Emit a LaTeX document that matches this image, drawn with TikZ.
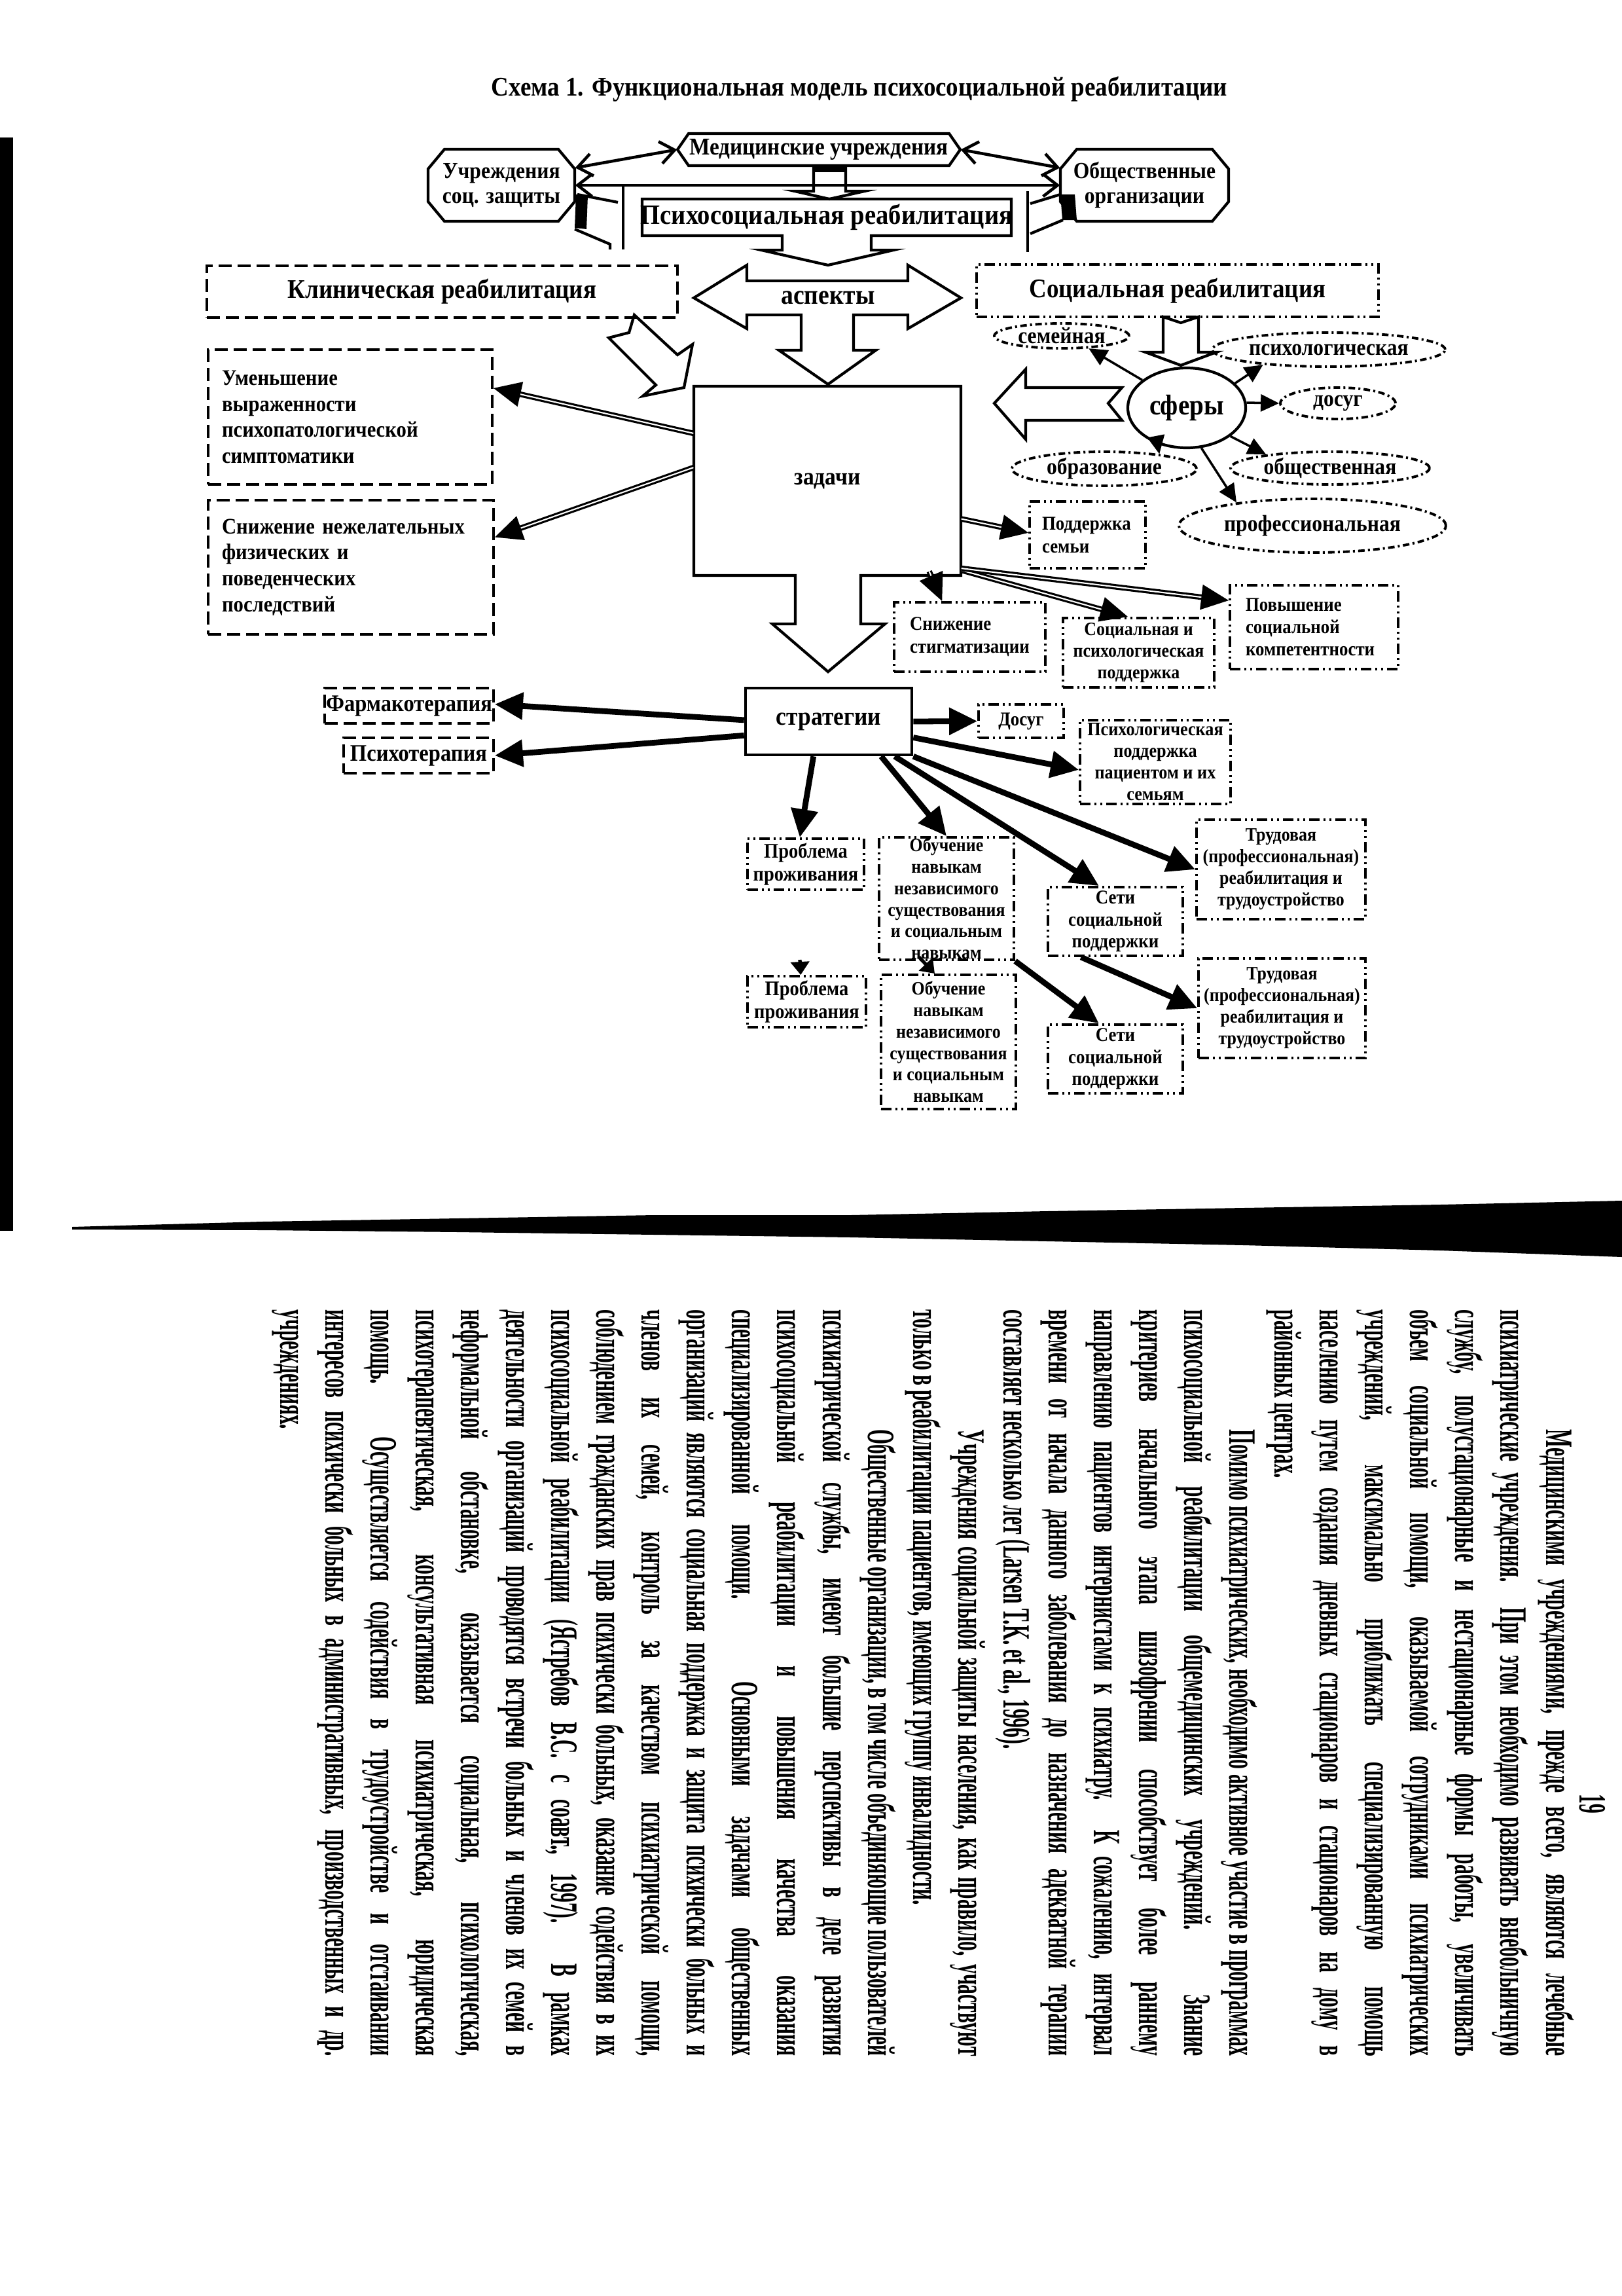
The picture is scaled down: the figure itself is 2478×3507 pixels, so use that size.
\documentclass[tikz,border=0pt]{standalone}
\usepackage{fontspec}
\setmainfont{Liberation Serif}
\newfontfamily\dfam[FakeStretch=0.9]{Liberation Serif}
\newfontfamily\bodyfam[FakeStretch=0.5]{Liberation Serif}
\usetikzlibrary{arrows.meta,shapes.geometric,calc}
\newcommand\dsz[2]{\dfam\bfseries\fontsize{#1}{#2}\selectfont}
\newcommand\jline[1]{\makebox[114mm][s]{#1}}
\newcommand\lline[1]{\makebox[114mm][l]{#1}}
\begin{document}
\begin{tikzpicture}[x=0.1mm,y=-0.1mm,
  shp/.style={draw, line width=1.2pt, line join=miter},
  plain/.style={inner sep=0pt},
  dashbox/.style={draw, line width=1.1pt, dash pattern=on 2mm off 0.9mm, inner sep=0pt},
  ddbox/.style={draw, line width=1.1pt, dash pattern=on 1.6mm off 0.6mm on 0.3mm off 0.6mm on 0.3mm off 0.6mm, inner sep=0pt},
  dotell/.style={ellipse, draw, line width=1.1pt, dash pattern=on 1mm off 0.5mm on 0.3mm off 0.5mm, inner sep=0pt},
  barb/.style={line width=1.3pt, arrows={Straight Barb[length=2.2mm,width=3.4mm]-Straight Barb[length=2.2mm,width=3.4mm]}},
  thickarrow/.style={line width=2.5pt, arrows={-Triangle[length=4.3mm,width=4mm]}},
  dblarrow/.style={line width=0.9pt, double, double distance=0.6pt, arrows={-Triangle[length=4.2mm,width=3.8mm]}},
  sfarrow/.style={line width=1pt, arrows={-Triangle[length=2.8mm,width=2.6mm]}},
  smallhead/.style={line width=1.5pt, arrows={-Triangle[length=2mm,width=2.8mm]}}
]
\useasboundingbox (0,0) rectangle (2478,3507);
\fill[white] (0,0) rectangle (2478,3507);

% ---------- title ----------
\node[font={\dsz{11.7}{14}}] (title) at (1313,136) {Схема 1. Функциональная модель психосоциальной реабилитации};

% ---------- top row ----------
\node[plain, font={\dsz{10.5}{12}}, minimum width=43.2mm, minimum height=4.9mm] (med) at (1251,228.5) {Медицинские учреждения};
\draw[shp] (1052,204) -- (1450,204) -- (1467,228.5) -- (1450,253) -- (1052,253) -- (1035,228.5) -- cycle;

\node[plain, font={\dsz{10}{10.8}}, align=center, minimum width=22.4mm, minimum height=11mm] (uchr) at (766,283) {Учреждения\\соц. защиты};
\draw[shp] (679,228) -- (853,228) -- (878,258) -- (878,308) -- (853,338) -- (679,338) -- (654,308) -- (654,258) -- cycle;

\node[plain, font={\dsz{10}{10.8}}, align=center, minimum width=25.7mm, minimum height=11mm] (obsh) at (1748.5,283) {Общественные\\организации};
\draw[shp] (1645,228) -- (1852,228) -- (1877,258) -- (1877,308) -- (1852,338) -- (1645,338) -- (1620,308) -- (1620,258) -- cycle;

\draw[barb] ($(uchr.north east)+(0,29)$) -- (med.west);
\draw[barb] (med.east) -- ($(obsh.north west)+(0,29)$);
\draw[barb] (uchr.east) -- (obsh.west);

% block arrow medical -> psychosocial
\fill (1243,253) rectangle (1292,263);
\draw[shp] (1243,253) -- (1243,292) -- (1214,292) -- (1267,304) -- (1321,292) -- (1292,292) -- (1292,253);

% side shapes
\fill (880,297) -- (898,299) -- (896,350) -- (878,348) -- cycle;
\draw[shp] (882,297) -- (944,309);
\draw[shp] (952,281) -- (952,381);
\draw[shp] (878,350) -- (932,373) -- (932,381);
\fill (1620,297) -- (1642,297) -- (1645,336) -- (1623,336) -- cycle;
\draw[shp] (1570,292) -- (1570,385);
\draw[shp] (1574,311) -- (1620,297);
\draw[shp] (1574,357) -- (1624,336);

% psychosocial box + arrow down
\node[plain, font={\dsz{12.2}{14}}, minimum width=56.4mm, minimum height=5.6mm] (psy) at (1263,332) {Психосоциальная реабилитация};
\draw[shp] (981,304) -- (1545,304) -- (1545,360) -- (1331,360) -- (1331,382) -- (1365,382) -- (1265,405) -- (1163,382) -- (1195,382) -- (1195,360) -- (981,360) -- cycle;

% ---------- aspects ----------
\node[font={\dsz{11.9}{14}}] (asp) at (1265,455) {аспекты};
\draw[shp] (1224,481) -- (1141,481) -- (1141,502) -- (1060,455) -- (1141,405) -- (1141,429) -- (1387,429) -- (1387,405) -- (1468,455) -- (1387,502) -- (1387,481) -- (1304,481) -- (1304,535) -- (1338,535) -- (1265,587) -- (1190,535) -- (1224,535) -- cycle;

\node[dashbox, font={\dsz{11.7}{14}}, minimum width=71.9mm, minimum height=7.9mm] (klin) at (675.5,445.5) {Клиническая реабилитация};
\node[ddbox, font={\dsz{11.7}{14}}, minimum width=61.4mm, minimum height=8mm] (soc) at (1799,444) {Социальная реабилитация};

% block arrow clinical -> tasks
\draw[shp] (969,481) -- (1035,542) -- (1058,526) -- (1045,592) -- (982,605) -- (1002,588) -- (930,516) -- (961,508) -- cycle;
% block arrow social -> spheres
\draw[shp] (1777,484) -- (1777,538) -- (1750,538) -- (1804,558) -- (1858,538) -- (1831,538) -- (1831,484) -- (1804,493) -- cycle;
% block arrow spheres -> tasks
\draw[shp] (1714,592) -- (1567,592) -- (1567,564) -- (1519,616) -- (1567,671) -- (1567,642) -- (1714,642) -- (1693,616) -- cycle;

% ---------- tasks ----------
\node[plain, font={\dsz{10.6}{12}}, minimum width=40.8mm, minimum height=28.9mm] (zad) at (1264,734.5) {задачи};
\draw[shp] (1060,590) -- (1468,590) -- (1468,879) -- (1315,879) -- (1315,953) -- (1352,953) -- (1265,1026) -- (1180,953) -- (1215,953) -- (1215,879) -- (1060,879) -- cycle;

\node[dashbox, font={\dsz{9.7}{11.3}}, minimum width=43.4mm, minimum height=20.6mm, text width=39.2mm, inner xsep=2.1mm, align=left] (umen) at (535,637) {Уменьшение\\выраженности\\психопатологической\\симптоматики};
\node[dashbox, font={\dsz{9.7}{11.3}}, minimum width=43.6mm, minimum height=20.5mm, text width=39.4mm, inner xsep=2.1mm, align=left] (snn) at (536,866.5) {Снижение нежелательных\\физических и\\поведенческих\\последствий};

\node[ddbox, font={\dsz{8.5}{9.9}}, minimum width=17.7mm, minimum height=10.2mm, text width=13.9mm, inner xsep=1.9mm, align=left] (pods) at (1661.5,817) {Поддержка\\семьи};
\node[ddbox, font={\dsz{8.5}{9.9}}, minimum width=23.1mm, minimum height=10.6mm, text width=18.3mm, inner xsep=2.4mm, align=left] (snst) at (1481.5,973) {Снижение\\стигматизации};
\node[ddbox, font={\dsz{8.2}{9.4}}, minimum width=23.1mm, minimum height=10.6mm, align=center] (sp) at (1739.5,997) {Социальная и\\психологическая\\поддержка};
\node[ddbox, font={\dsz{8.5}{9.6}}, minimum width=25.7mm, minimum height=12.8mm, text width=20.9mm, inner xsep=2.4mm, align=left] (pov) at (2007.5,958) {Повышение\\социальной\\компетентности};

% spheres
\node[ellipse, draw, line width=1.2pt, inner sep=0pt, minimum width=18mm, minimum height=12.2mm, font={\dsz{12.4}{14}}] (sf) at (1813,623) {сферы};
\node[dotell, minimum width=20.6mm, minimum height=3.8mm, font={\dsz{10}{12}}] (sem) at (1622,513) {семейная};
\node[dotell, minimum width=35.6mm, minimum height=5.2mm, font={\dsz{10}{12}}] (psl) at (2030,534) {психологическая};
\node[dotell, minimum width=17.6mm, minimum height=4.8mm, font={\dsz{10}{12}}] (dsg) at (2044,616) {досуг};
\node[dotell, minimum width=28.2mm, minimum height=5.2mm, font={\dsz{10}{12}}] (obr) at (1687,716) {образование};
\node[dotell, minimum width=30.4mm, minimum height=5mm, font={\dsz{10}{12}}] (obs) at (2032,715) {общественная};
\node[dotell, minimum width=40.8mm, minimum height=8.2mm, font={\dsz{10}{12}}] (prof) at (2005,803) {профессиональная};

\draw[sfarrow] (sf.148) -- (sem.-25);
\draw[sfarrow] (sf.27) -- (psl.193);
\draw[sfarrow] (sf.5) -- (dsg.180);
\draw[sfarrow] (sf.231) -- (obr.15);
\draw[sfarrow] (sf.-33) -- (obs.168);
\draw[sfarrow] (sf.-70) -- (prof.163);

% task arrows
\draw[dblarrow] ($(zad.north west)!0.25!(zad.south west)$) -- ($(umen.north east)!0.29!(umen.south east)$);
\draw[dblarrow] ($(zad.north west)!0.43!(zad.south west)$) -- ($(snn.north east)!0.28!(snn.south east)$);
\draw[dblarrow] ($(zad.north east)!0.70!(zad.south east)$) -- ($(pods.north west)!0.47!(pods.south west)$);
\draw[dblarrow] ($(zad.south west)!0.88!(zad.south east)+(0,-7)$) -- ($(snst.north west)!0.32!(snst.north east)$);
\draw[dblarrow] ($(zad.north east)!0.97!(zad.south east)$) -- ($(sp.north west)!0.43!(sp.north east)$);
\draw[dblarrow] ($(zad.north east)!0.96!(zad.south east)$) -- ($(pov.north west)!0.19!(pov.south west)$);

% ---------- strategies ----------
\node[draw, line width=1.3pt, inner sep=0pt, font={\dsz{11.2}{13}}, minimum width=25.4mm, minimum height=10.2mm] (str) at (1266,1102) {стратегии};
\node[dashbox, font={\dsz{10.3}{12}}, minimum width=25.8mm, minimum height=5.4mm] (farm) at (625,1078) {Фармакотерапия};
\node[dashbox, font={\dsz{10.3}{12}}, minimum width=22.9mm, minimum height=5.4mm] (psiho) at (639.5,1154) {Психотерапия};
\node[ddbox, font={\dsz{8.5}{10}}, minimum width=13mm, minimum height=5.1mm] (dosug) at (1560,1101.5) {Досуг};
\node[ddbox, font={\dsz{8.3}{9.4}}, minimum width=23mm, minimum height=12.8mm, align=center] (pp) at (1765,1164) {Психологическая\\поддержка\\пациентом и их\\семьям};
\node[ddbox, font={\dsz{9}{10.2}}, minimum width=17.8mm, minimum height=7.8mm, align=center] (prA) at (1231,1320) {Проблема\\проживания};
\node[ddbox, font={\dsz{9}{10.2}}, minimum width=18.1mm, minimum height=7.8mm, align=center] (prB) at (1232.5,1530) {Проблема\\проживания};
\node[ddbox, font={\dsz{8.2}{9.3}}, minimum width=20.6mm, minimum height=18.7mm, align=center] (obA) at (1446,1372.5) {Обучение\\навыкам\\независимого\\существования\\и социальным\\навыкам};
\node[ddbox, font={\dsz{8.2}{9.3}}, minimum width=20.6mm, minimum height=20.5mm, align=center] (obB) at (1449,1591.5) {Обучение\\навыкам\\независимого\\существования\\и социальным\\навыкам};
\node[ddbox, font={\dsz{8.5}{9.5}}, minimum width=20.6mm, minimum height=10.5mm, align=center] (setA) at (1704,1407.5) {Сети\\социальной\\поддержки};
\node[ddbox, font={\dsz{8.5}{9.5}}, minimum width=20.6mm, minimum height=10.5mm, align=center] (setB) at (1704,1617.5) {Сети\\социальной\\поддержки};
\node[ddbox, font={\dsz{8.2}{9.4}}, minimum width=25.8mm, minimum height=15.2mm, align=center] (trA) at (1957,1328) {Трудовая\\(профессиональная)\\реабилитация и\\трудоустройство};
\node[ddbox, font={\dsz{8.2}{9.4}}, minimum width=25.5mm, minimum height=15.2mm, align=center] (trB) at (1958.5,1540) {Трудовая\\(профессиональная)\\реабилитация и\\трудоустройство};

\draw[thickarrow] ($(str.north west)!0.48!(str.south west)$) -- ($(farm.north east)!0.46!(farm.south east)$);
\draw[thickarrow] ($(str.north west)!0.70!(str.south west)$) -- (psiho.east);
\draw[thickarrow] (str.east) -- (dosug.west);
\draw[thickarrow] ($(str.north east)!0.73!(str.south east)$) -- ($(pp.north west)!0.59!(pp.south west)$);
\draw[thickarrow] ($(str.south west)!0.41!(str.south east)$) -- ($(prA.north west)!0.45!(prA.north east)$);
\draw[thickarrow] ($(str.south west)!0.81!(str.south east)$) -- (obA.north);
\draw[thickarrow] ($(str.south west)!0.89!(str.south east)$) -- ($(setA.north west)!0.38!(setA.north east)$);
\draw[thickarrow] (str.south east) -- (trA.west);
\draw[smallhead] ($(obA.south west)!0.3!(obA.south east)+(0,-6)$) -- ($(obB.north west)!0.4!(obB.north east)$);
\coordinate (prtip) at (1222,1466);
\draw[smallhead] (prtip) -- ($(prB.north west)!0.45!(prB.north east)$);
\draw[thickarrow] (obA.south east) -- ($(setB.north west)!0.38!(setB.north east)$);
\draw[thickarrow] ($(setA.south west)!0.25!(setA.south east)$) -- (trB.west);

% ---------- scan artefacts ----------
\fill (0,210) rectangle (20,1880);
\fill (110,1874) -- (400,1866) -- (700,1861) -- (1000,1856) -- (1300,1856) -- (1600,1850) -- (1900,1845) -- (2200,1840) -- (2478,1834) -- (2478,1920) -- (2200,1910) -- (1900,1902) -- (1600,1896) -- (1300,1890) -- (1000,1886) -- (700,1882) -- (400,1879) -- (110,1878) -- cycle;

% ---------- rotated body text ----------
\node[rotate=-90, font={\bodyfam\bfseries\fontsize{16.8}{19.65}\selectfont}] (pnum) at (2433,2755) {19};
\node[rotate=-90, anchor=north west, inner sep=0pt, align=left, font={\bodyfam\bfseries\fontsize{16.8}{19.65}\selectfont}] (body) at (2405,2000) {%
\jline{\hspace*{18.3mm}Медицинскими учреждениями, прежде всего, являются лечебные}\\
\jline{психиатрические учреждения. При этом необходимо развивать внебольничную}\\
\jline{службу, полустационарные и нестационарные формы работы, увеличивать}\\
\jline{объем социальной помощи, оказываемой сотрудниками психиатрических}\\
\jline{учреждений, максимально приближать специализированную помощь}\\
\jline{населению путем создания дневных стационаров и стационаров на дому в}\\
\lline{районных центрах.}\\
\jline{\hspace*{18.3mm}Помимо психиатрических, необходимо активное участие в программах}\\
\jline{психосоциальной реабилитации общемедицинских учреждений. Знание}\\
\jline{критериев начального этапа шизофрении способствует более раннему}\\
\jline{направлению пациентов интернистами к психиатру. К сожалению, интервал}\\
\jline{времени от начала данного заболевания до назначения адекватной терапии}\\
\lline{составляет несколько лет (Larsen T.K. et al., 1996).}\\
\jline{\hspace*{18.3mm}Учреждения социальной защиты населения, как правило, участвуют}\\
\lline{только в реабилитации пациентов, имеющих группу инвалидности.}\\
\jline{\hspace*{18.3mm}Общественные организации, в том числе объединяющие пользователей}\\
\jline{психиатрической службы, имеют большие перспективы в деле развития}\\
\jline{психосоциальной реабилитации и повышения качества оказания}\\
\jline{специализированной помощи. Основными задачами общественных}\\
\jline{организаций являются социальная поддержка и защита психически больных и}\\
\jline{членов их семей, контроль за качеством психиатрической помощи,}\\
\jline{соблюдением гражданских прав психически больных, оказание содействия в их}\\
\jline{психосоциальной реабилитации (Ястребов В.С. с соавт., 1997). В рамках}\\
\jline{деятельности организаций проводятся встречи больных и членов их семей в}\\
\jline{неформальной обстановке, оказывается социальная, психологическая,}\\
\jline{психотерапевтическая, консультативная психиатрическая, юридическая}\\
\jline{помощь. Осуществляется содействия в трудоустройстве и отстаивании}\\
\jline{интересов психически больных в административных, производственных и др.}\\
\lline{учреждениях.}};
\end{tikzpicture}
\end{document}
